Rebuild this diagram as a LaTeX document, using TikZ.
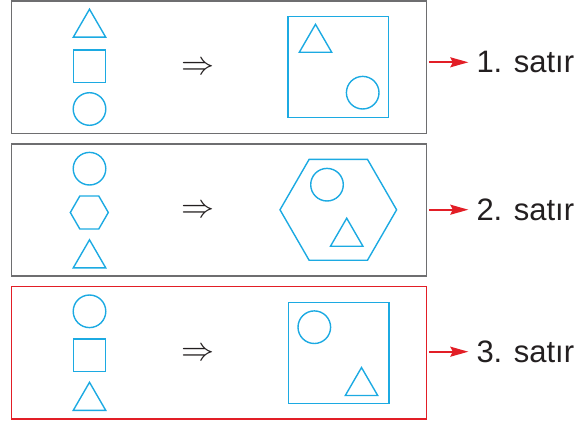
\documentclass[tikz,border=0pt]{standalone}
\usepackage{fontspec}
\setmainfont{Liberation Sans}
\usetikzlibrary{arrows.meta}
\definecolor{mavi}{RGB}{28,170,226}
\definecolor{kirmizi}{RGB}{226,30,38}
\definecolor{gri}{RGB}{110,110,112}
\definecolor{yazi}{RGB}{35,31,32}
\begin{document}
\begin{tikzpicture}[x=1pt, y=-1pt,
    sekil/.style={draw=mavi, line width=1.4pt},
    kutu/.style={draw=gri, line width=1.5pt, minimum width=414.8pt, minimum height=132.3pt, inner sep=0pt},
    etiket/.style={text=yazi, font=\fontsize{31}{37}\selectfont, inner xsep=8pt, inner ysep=0pt, anchor=west},
    ok/.style={draw=kirmizi, line width=1.6pt, -{Stealth[length=18pt, width=10pt, inset=2.5pt]}, shorten <=2pt},
    imp/.style={text=yazi, inner sep=0pt}]
    % --- 定义参数 ---
    \def\rad{16.3}      % 小圆半径
    \def\kenar{16.2}    % 小正方形/三角形半边长
    \def\bkenar{50.3}   % 大正方形半边长

    \useasboundingbox (0,0) rectangle (588,422);

    % --- 绘制三个外框 ---
    \node[kutu] (box1) at (219.1,67.2) {};
    \node[kutu] (box2) at (219.1,210) {};
    \node[kutu, draw=kirmizi] (box3) at (219.1,352.8) {};

    % --- 第 1 行: 三角形, 正方形, 圆 ---
    \draw[sekil] (89.5-\kenar,23.2+14) -- (89.5,23.2-14) -- (89.5+\kenar,23.2+14) -- cycle;
    \draw[sekil] (89.5-\kenar,66.2-\kenar) rectangle (89.5+\kenar,66.2+\kenar);
    \draw[sekil] (89.5,109) circle (\rad);
    \node[imp] (imp1) at (197.5,68) {\scalebox{3.3}{$\Rightarrow$}};
    % 大正方形及其中的图形
    \draw[sekil] (338.3-\bkenar,67-\bkenar) rectangle (338.3+\bkenar,67+\bkenar);
    \draw[sekil] (315.5-\kenar,38.3+14) -- (315.5,38.3-14) -- (315.5+\kenar,38.3+14) -- cycle;
    \draw[sekil] (362.7,92.7) circle (\rad);

    % --- 第 2 行: 圆, 六边形, 三角形 ---
    \draw[sekil] (89.5,168.7) circle (\rad);
    \draw[sekil] (89.3,212.5) +(0:19) -- +(60:19) -- +(120:19) -- +(180:19) -- +(240:19) -- +(300:19) -- cycle;
    \draw[sekil] (89.5-\kenar,253.8+14) -- (89.5,253.8-14) -- (89.5+\kenar,253.8+14) -- cycle;
    \node[imp] (imp2) at (197.5,211) {\scalebox{3.3}{$\Rightarrow$}};
    % 大六边形及其中的图形
    \draw[sekil] (338.3,209.8) +(0:58.3) -- +(60:58.3) -- +(120:58.3) -- +(180:58.3) -- +(240:58.3) -- +(300:58.3) -- cycle;
    \draw[sekil] (327,184.7) circle (\rad);
    \draw[sekil] (346.7-\kenar,232.2+14) -- (346.7,232.2-14) -- (346.7+\kenar,232.2+14) -- cycle;

    % --- 第 3 行: 圆, 正方形, 三角形 ---
    \draw[sekil] (89.5,311.3) circle (\rad);
    \draw[sekil] (89.5-\kenar,355-\kenar) rectangle (89.5+\kenar,355+\kenar);
    \draw[sekil] (89.5-\kenar,396.3+14) -- (89.5,396.3-14) -- (89.5+\kenar,396.3+14) -- cycle;
    \node[imp] (imp3) at (197.5,354) {\scalebox{3.3}{$\Rightarrow$}};
    % 大正方形及其中的图形
    \draw[sekil] (338.5-\bkenar,353-\bkenar) rectangle (338.5+\bkenar,353+\bkenar);
    \draw[sekil] (314.3,327.2) circle (\rad);
    \draw[sekil] (361.5-\kenar,381.5+14) -- (361.5,381.5-14) -- (361.5+\kenar,381.5+14) -- cycle;

    % --- 右侧标签与红色箭头 ---
    \node[etiket] (lab1) at (468.3,62.3) {1. satır};
    \node[etiket] (lab2) at (468.3,209.7) {2. satır};
    \node[etiket] (lab3) at (468.3,351.7) {3. satır};
    \draw[ok] (box1.east |- lab1.west) -- (lab1.west);
    \draw[ok] (box2.east |- lab2.west) -- (lab2.west);
    \draw[ok] (box3.east |- lab3.west) -- (lab3.west);

\end{tikzpicture}
\end{document}
